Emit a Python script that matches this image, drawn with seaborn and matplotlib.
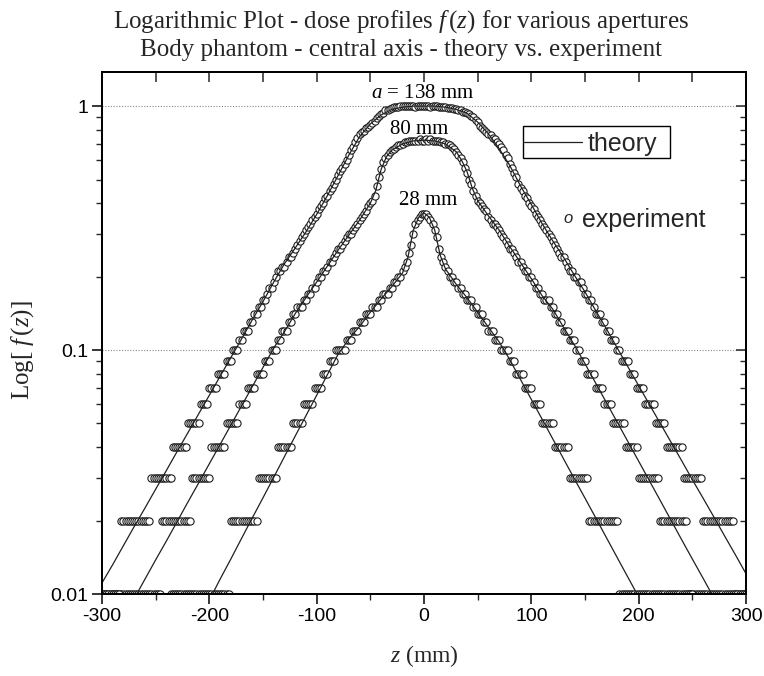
import numpy as np
import matplotlib
matplotlib.use("Agg")
import matplotlib.pyplot as plt
import seaborn as sns
from matplotlib.patches import Rectangle
from matplotlib.lines import Line2D
from matplotlib.ticker import FixedLocator, FixedFormatter, NullFormatter, LogLocator

nan = float("nan")

# ---------------- data ----------------
# experimental sampling positions (mm), one every 2 mm
z_exp = np.arange(-300, 301, 2)

exp_138 = [
    0.01, 0.01, 0.01, 0.01, 0.01, 0.01, 0.01, 0.01, 0.01, 0.02,   # -300..-282
    0.02, 0.02, 0.02, 0.02, 0.02, 0.02, 0.02, 0.02, 0.02, 0.02,   # -280..-262
    0.02, 0.02, 0.02, 0.03, 0.03, 0.03, 0.03, 0.03, 0.03, 0.03,   # -260..-242
    0.03, 0.03, 0.03, 0.04, 0.04, 0.04, 0.04, 0.04, 0.04, 0.04,   # -240..-222
    0.05, 0.05, 0.05, 0.05, 0.05, 0.05, 0.06, 0.06, 0.06, 0.06,   # -220..-202
    0.07, 0.07, 0.07, 0.07, 0.08, 0.08, 0.08, 0.08, 0.09, 0.09,   # -200..-182
    0.09, 0.10, 0.10, 0.10, 0.11, 0.11, 0.12, 0.12, 0.12, 0.13,   # -180..-162
    0.13, 0.14, 0.14, 0.15, 0.15, 0.16, 0.16, 0.17, 0.18, 0.18,   # -160..-142
    0.19, 0.20, 0.21, 0.21, 0.22, 0.22, 0.23, 0.24, 0.24, 0.25,   # -140..-122
    0.26, 0.27, 0.28, 0.29, 0.30, 0.31, 0.32, 0.33, 0.34, 0.35,   # -120..-102
    0.36, 0.38, 0.39, 0.40, 0.42, 0.43, 0.45, 0.46, 0.48, 0.50,   # -100..-82
    0.52, 0.54, 0.56, 0.58, 0.60, 0.63, 0.66, 0.68, 0.71, 0.74,   # -80..-62
    0.77, 0.78, 0.79, 0.81, 0.82, 0.84, 0.85, 0.87, 0.89, 0.91,   # -60..-42
    0.93, 0.94, 0.96, 0.96, 0.97, 0.98, 0.99, 0.99, 0.99, 1.00,   # -40..-22
    1.00, 1.00, 1.00, 1.00, 1.00, 1.00, 0.99, 1.00, 1.00, 1.00,   # -20..-2
    1.00, 1.00, 1.00, 0.99, 1.00, 1.00, 1.00, 0.99, 0.99, 0.99,   # 0..18
    0.99, 0.98, 0.98, 0.98, 0.97, 0.97, 0.96, 0.96, 0.95, 0.95,   # 20..38
    0.94, 0.93, 0.91, 0.90, 0.88, 0.86, 0.83, 0.81, 0.80, 0.78,   # 40..58
    0.77, 0.76, 0.74, 0.73, 0.71, 0.70, 0.68, 0.66, 0.63, 0.61,   # 60..78
    0.58, 0.56, 0.53, 0.51, 0.48, 0.46, 0.45, 0.43, 0.42, 0.40,   # 80..98
    0.39, 0.38, 0.36, 0.35, 0.34, 0.33, 0.32, 0.31, 0.30, 0.29,   # 100..118
    0.28, 0.27, 0.26, 0.25, 0.24, 0.24, 0.23, 0.22, 0.21, 0.21,   # 120..138
    0.20, 0.20, 0.19, 0.19, 0.18, 0.17, 0.17, 0.16, 0.16, 0.15,   # 140..158
    0.14, 0.14, 0.14, 0.13, 0.13, 0.12, 0.12, 0.11, 0.11, 0.11,   # 160..178
    0.10, 0.10, 0.09, 0.09, 0.09, 0.09, 0.08, 0.08, 0.08, 0.07,   # 180..198
    0.07, 0.07, 0.07, 0.06, 0.06, 0.06, 0.06, 0.06, 0.05, 0.05,   # 200..218
    0.05, 0.05, 0.05, 0.04, 0.04, 0.04, 0.04, 0.04, 0.04, 0.04,   # 220..238
    0.04, 0.03, 0.03, 0.03, 0.03, 0.03, 0.03, 0.03, 0.03, 0.03,   # 240..258
    0.02, 0.02, 0.02, 0.02, 0.02, 0.02, 0.02, 0.02, 0.02, 0.02,   # 260..278
    0.02, 0.02, 0.02, 0.02, 0.02, 0.01, 0.01, 0.01, 0.01, 0.01,   # 280..298
    0.01,                                                         # 300
]

exp_80 = [
    0.01, 0.01, 0.01, 0.01, 0.01, 0.01, 0.01, 0.01, 0.01, 0.01,   # -300..-282
    0.01, 0.01, 0.01, 0.01, 0.01, 0.01, 0.01, 0.01, 0.01, 0.01,   # -280..-262
    0.01, 0.01, 0.01, 0.01, 0.01, 0.01, 0.01, 0.01, 0.02, 0.02,   # -260..-242
    0.02, 0.02, 0.02, 0.02, 0.02, 0.02, 0.02, 0.02, 0.02, 0.02,   # -240..-222
    0.02, 0.02, 0.03, 0.03, 0.03, 0.03, 0.03, 0.03, 0.03, 0.03,   # -220..-202
    0.03, 0.04, 0.04, 0.04, 0.04, 0.04, 0.04, 0.04, 0.05, 0.05,   # -200..-182
    0.05, 0.05, 0.05, 0.05, 0.06, 0.06, 0.06, 0.06, 0.07, 0.07,   # -180..-162
    0.07, 0.07, 0.08, 0.08, 0.08, 0.08, 0.09, 0.09, 0.09, 0.10,   # -160..-142
    0.10, 0.10, 0.11, 0.11, 0.12, 0.12, 0.12, 0.13, 0.13, 0.14,   # -140..-122
    0.14, 0.15, 0.15, 0.15, 0.16, 0.16, 0.17, 0.17, 0.18, 0.18,   # -120..-102
    0.19, 0.20, 0.20, 0.21, 0.21, 0.22, 0.23, 0.23, 0.24, 0.25,   # -100..-82
    0.26, 0.26, 0.27, 0.28, 0.29, 0.30, 0.30, 0.31, 0.32, 0.33,   # -80..-62
    0.34, 0.35, 0.36, 0.37, 0.39, 0.40, 0.41, 0.43, 0.47, 0.51,   # -60..-42
    0.55, 0.59, 0.61, 0.63, 0.65, 0.66, 0.67, 0.68, 0.69, 0.69,   # -40..-22
    0.70, 0.71, 0.71, 0.72, 0.72, 0.72, 0.72, 0.72, 0.73, 0.72,   # -20..-2
    0.72, 0.73, 0.72, 0.73, 0.72, 0.72, 0.72, 0.72, 0.71, 0.71,   # 0..18
    0.70, 0.70, 0.69, 0.68, 0.67, 0.65, 0.63, 0.61, 0.59, 0.56,   # 20..38
    0.53, 0.50, 0.48, 0.45, 0.43, 0.41, 0.40, 0.39, 0.38, 0.37,   # 40..58
    0.35, 0.34, 0.33, 0.33, 0.32, 0.31, 0.30, 0.29, 0.28, 0.27,   # 60..78
    0.26, 0.26, 0.25, 0.24, 0.23, 0.23, 0.22, 0.21, 0.21, 0.20,   # 80..98
    0.20, 0.19, 0.18, 0.18, 0.17, 0.17, 0.16, 0.16, 0.16, 0.15,   # 100..118
    0.15, 0.14, 0.14, 0.13, 0.13, 0.12, 0.12, 0.12, 0.11, 0.11,   # 120..138
    0.11, 0.10, 0.10, 0.09, 0.09, 0.09, 0.08, 0.08, 0.08, 0.08,   # 140..158
    0.07, 0.07, 0.07, 0.07, 0.06, 0.06, 0.06, 0.06, 0.05, 0.05,   # 160..178
    0.05, 0.05, 0.05, 0.05, 0.04, 0.04, 0.04, 0.04, 0.04, 0.04,   # 180..198
    0.03, 0.03, 0.03, 0.03, 0.03, 0.03, 0.03, 0.03, 0.03, 0.03,   # 200..218
    0.02, 0.02, 0.02, 0.02, 0.02, 0.02, 0.02, 0.02, 0.02, 0.02,   # 220..238
    0.02, 0.02, 0.02, 0.01, 0.01, 0.01, 0.01, 0.01, 0.01, 0.01,   # 240..258
    0.01, 0.01, 0.01, 0.01, 0.01, 0.01, 0.01, 0.01, 0.01, 0.01,   # 260..278
    0.01, 0.01, 0.01, 0.01, 0.01, 0.01, 0.01, 0.01, 0.01, 0.01,   # 280..298
    0.01,                                                         # 300
]

exp_28 = [
    nan, nan, nan, nan, nan, nan, nan, nan, nan, nan,             # -300..-282
    nan, nan, nan, nan, nan, nan, nan, nan, nan, nan,             # -280..-262
    nan, nan, nan, nan, nan, nan, nan, nan, nan, nan,             # -260..-242
    nan, nan, 0.01, 0.01, 0.01, 0.01, 0.01, 0.01, 0.01, 0.01,     # -240..-222
    0.01, 0.01, 0.01, 0.01, 0.01, 0.01, 0.01, 0.01, 0.01, 0.01,   # -220..-202
    0.01, 0.01, 0.01, 0.01, 0.01, 0.01, 0.01, 0.01, 0.01, 0.01,   # -200..-182
    0.02, 0.02, 0.02, 0.02, 0.02, 0.02, 0.02, 0.02, 0.02, 0.02,   # -180..-162
    0.02, 0.02, 0.02, 0.03, 0.03, 0.03, 0.03, 0.03, 0.03, 0.03,   # -160..-142
    0.03, 0.03, 0.04, 0.04, 0.04, 0.04, 0.04, 0.04, 0.04, 0.05,   # -140..-122
    0.05, 0.05, 0.05, 0.05, 0.06, 0.06, 0.06, 0.06, 0.06, 0.07,   # -120..-102
    0.07, 0.07, 0.07, 0.08, 0.08, 0.08, 0.09, 0.09, 0.09, 0.10,   # -100..-82
    0.10, 0.10, 0.10, 0.10, 0.11, 0.11, 0.11, 0.12, 0.12, 0.12,   # -80..-62
    0.13, 0.13, 0.13, 0.14, 0.14, 0.14, 0.15, 0.15, 0.15, 0.16,   # -60..-42
    0.16, 0.17, 0.17, 0.17, 0.18, 0.18, 0.19, 0.19, 0.20, 0.20,   # -40..-22
    0.21, 0.22, 0.23, 0.25, 0.27, 0.30, 0.33, 0.34, 0.35, 0.36,   # -20..-2
    0.36, 0.36, 0.35, 0.34, 0.33, 0.31, 0.29, 0.26, 0.24, 0.23,   # 0..18
    0.22, 0.21, 0.20, 0.20, 0.19, 0.19, 0.18, 0.18, 0.17, 0.17,   # 20..38
    0.16, 0.16, 0.16, 0.15, 0.15, 0.14, 0.14, 0.14, 0.13, 0.13,   # 40..58
    0.12, 0.12, 0.12, 0.11, 0.11, 0.11, 0.10, 0.10, 0.10, 0.10,   # 60..78
    0.09, 0.09, 0.09, 0.08, 0.08, 0.08, 0.08, 0.07, 0.07, 0.07,   # 80..98
    0.07, 0.06, 0.06, 0.06, 0.06, 0.05, 0.05, 0.05, 0.05, 0.05,   # 100..118
    0.05, 0.04, 0.04, 0.04, 0.04, 0.04, 0.04, 0.04, 0.03, 0.03,   # 120..138
    0.03, 0.03, 0.03, 0.03, 0.03, 0.03, 0.03, 0.02, 0.02, 0.02,   # 140..158
    0.02, 0.02, 0.02, 0.02, 0.02, 0.02, 0.02, 0.02, 0.02, 0.02,   # 160..178
    0.02, 0.01, 0.01, 0.01, 0.01, 0.01, 0.01, 0.01, 0.01, 0.01,   # 180..198
    0.01, 0.01, 0.01, 0.01, 0.01, 0.01, 0.01, 0.01, 0.01, 0.01,   # 200..218
    0.01, 0.01, 0.01, 0.01, 0.01, 0.01, 0.01, 0.01, 0.01, 0.01,   # 220..238
    0.01, 0.01, 0.01, 0.01, 0.01, 0.01, nan, nan, nan, nan,       # 240..258
    nan, nan, nan, nan, nan, nan, nan, nan, nan, nan,             # 260..278
    nan, nan, nan, nan, nan, nan, nan, nan, nan, nan,             # 280..298
    nan,                                                          # 300
]

# theory curves
z_th_138 = [-300, -290, -280, -270, -260, -250, -240, -230, -220, -210,
            -200, -190, -180, -170, -160, -150, -140, -130, -120, -110,
            -100, -90, -80, -70, -60, -50, -40, -30, -20, -10,
            0, 10, 20, 30, 40, 50, 60, 70, 80, 90,
            100, 110, 120, 130, 140, 150, 160, 170, 180, 190,
            200, 210, 220, 230, 240, 250, 260, 270, 280, 290,
            300]
th_138 = [0.0111, 0.0132, 0.0158, 0.0189, 0.0225, 0.0269, 0.0321, 0.0384, 0.0458, 0.0547,
          0.0653, 0.078, 0.0931, 0.111, 0.133, 0.158, 0.19, 0.226, 0.262, 0.305,
          0.36, 0.43, 0.52, 0.63, 0.75, 0.845, 0.92, 0.97, 0.99, 1.0,
          1.0, 1.0, 0.99, 0.97, 0.935, 0.86, 0.77, 0.67, 0.57, 0.47,
          0.395, 0.33, 0.28, 0.24, 0.203, 0.173, 0.145, 0.122, 0.102, 0.0853,
          0.0714, 0.0598, 0.0501, 0.042, 0.0352, 0.0294, 0.0247, 0.0207, 0.0173, 0.0145,
          0.0121]

z_th_80 = [-300, -290, -280, -270, -260, -250, -240, -230, -220, -210,
           -200, -190, -180, -170, -160, -150, -140, -130, -120, -110,
           -100, -90, -80, -70, -60, -50, -45, -40, -35, -30,
           -20, -10, 0, 10, 20, 30, 35, 40, 45, 50,
           60, 70, 80, 90, 100, 110, 120, 130, 140, 150,
           160, 170, 180, 190, 200, 210, 220, 230, 240, 250,
           260, 270, 280, 290, 300]
th_80 = [0.00555, 0.00665, 0.00798, 0.00957, 0.0115, 0.0138, 0.0165, 0.0198, 0.0238, 0.0285,
         0.0342, 0.041, 0.0492, 0.059, 0.0708, 0.0849, 0.102, 0.119, 0.141, 0.164,
         0.19, 0.221, 0.257, 0.296, 0.341, 0.40, 0.45, 0.55, 0.62, 0.66,
         0.70, 0.72, 0.725, 0.72, 0.70, 0.65, 0.60, 0.54, 0.46, 0.41,
         0.355, 0.31, 0.265, 0.228, 0.196, 0.167, 0.147, 0.124, 0.105, 0.0879,
         0.0731, 0.0608, 0.0506, 0.0421, 0.035, 0.0291, 0.0242, 0.0201, 0.0167, 0.0139,
         0.0116, 0.00964, 0.008, 0.00667, 0.00555]

z_th_28 = [-200, -190, -180, -170, -160, -150, -140, -130, -120, -110,
           -100, -90, -80, -70, -60, -50, -40, -30, -20, -15,
           -10, -5, 0, 5, 10, 15, 20, 30, 40, 50,
           60, 70, 80, 90, 100, 110, 120, 130, 140, 150,
           160, 170, 180, 190, 200, 210]
th_28 = [0.00944, 0.0115, 0.0139, 0.0169, 0.0205, 0.0248, 0.0301, 0.0366, 0.0444, 0.0538,
         0.0653, 0.0793, 0.0962, 0.111, 0.125, 0.143, 0.162, 0.182, 0.207, 0.24,
         0.31, 0.35, 0.365, 0.35, 0.31, 0.245, 0.215, 0.186, 0.164, 0.143,
         0.124, 0.108, 0.0911, 0.0756, 0.0627, 0.0521, 0.0432, 0.0358, 0.0297, 0.0247,
         0.0205, 0.017, 0.0141, 0.0117, 0.00972, 0.00806]

x_ticks = [-300, -200, -100, 0, 100, 200, 300]
x_ticks_minor = [-250, -150, -50, 50, 150, 250]
top_ticks = [-300, -250, -200, -150, -100, -50, 0, 50, 100, 150, 200, 250, 300]
y_ticks = [0.01, 0.1, 1]
y_tick_labels = ["0.01", "0.1", "1"]

labels = [("$a$ = 138 mm", -1, 1.13), ("80 mm", -5, 0.80), ("28 mm", 4, 0.41)]

assert len(exp_138) == len(z_exp) and len(exp_80) == len(z_exp) and len(exp_28) == len(z_exp)
assert len(z_th_138) == len(th_138) and len(z_th_80) == len(th_80) and len(z_th_28) == len(th_28)

# ---------------- style ----------------
sns.set_style("ticks")
plt.rcParams["font.family"] = ["Liberation Sans", "DejaVu Sans"]
plt.rcParams["mathtext.fontset"] = "custom"
plt.rcParams["mathtext.rm"] = "Liberation Serif"
plt.rcParams["mathtext.it"] = "Liberation Serif:italic"
plt.rcParams["mathtext.bf"] = "Liberation Serif:bold"

SERIF = ["Liberation Serif", "DejaVu Serif"]
INK = "#202020"

fig = plt.figure(figsize=(7.64, 6.76), dpi=100)
ax = fig.add_axes([0.1335, 0.1213, 0.843, 0.7722])

for vals in (exp_80, exp_138, exp_28):
    sns.scatterplot(x=z_exp, y=vals, ax=ax, marker="o", s=27, color="white",
                    edgecolor="#1e1e1e", linewidth=0.8, zorder=2, legend=False)

for zz, vv in ((z_th_138, th_138), (z_th_80, th_80), (z_th_28, th_28)):
    sns.lineplot(x=zz, y=vv, ax=ax, color=INK, linewidth=0.9, estimator=None,
                 sort=False, zorder=3)

ax.set_yscale("log")
ax.set_xlim(-300, 300)
ax.set_ylim(0.01, 1.38)
ax.set_xlabel("")
ax.set_ylabel("")

ax.xaxis.set_major_locator(FixedLocator(x_ticks))
ax.xaxis.set_minor_locator(FixedLocator(x_ticks_minor))
ax.set_xticklabels([str(t) for t in x_ticks])
ax.yaxis.set_major_locator(FixedLocator(y_ticks))
ax.yaxis.set_major_formatter(FixedFormatter(y_tick_labels))
ax.yaxis.set_minor_locator(LogLocator(base=10, subs=range(2, 10)))
ax.yaxis.set_minor_formatter(NullFormatter())

ax.tick_params(axis="both", which="major", direction="out", length=7, width=1.1,
               labelsize=14, colors="black", pad=3, top=False, right=False)
ax.tick_params(axis="both", which="minor", direction="out", length=4, width=1.0,
               top=False, right=False)
for lab in ax.get_xticklabels() + ax.get_yticklabels():
    lab.set_fontfamily(["Liberation Sans", "DejaVu Sans"])

ax.yaxis.grid(True, which="major", linestyle=(0, (1, 1.5)), color="#8a8a8a", linewidth=0.8)
ax.xaxis.grid(False)
for sp in ax.spines.values():
    sp.set_linewidth(1.2)
    sp.set_color("black")
    sp.set_visible(True)

# mirrored ticks (inward) on top and right
axt = ax.twiny()
axt.set_xlim(-300, 300)
axt.xaxis.set_major_locator(FixedLocator(top_ticks))
axt.xaxis.set_minor_locator(FixedLocator([]))
axt.tick_params(axis="x", which="major", direction="in", length=7, width=1.1,
                top=True, bottom=False, labeltop=False, labelbottom=False)
axr = ax.twinx()
axr.set_yscale("log")
axr.set_ylim(0.01, 1.38)
axr.yaxis.set_major_locator(FixedLocator(y_ticks))
axr.yaxis.set_minor_locator(LogLocator(base=10, subs=range(2, 10)))
axr.yaxis.set_minor_formatter(NullFormatter())
axr.tick_params(axis="y", which="major", direction="in", length=7, width=1.1,
                right=True, left=False, labelright=False, labelleft=False)
axr.tick_params(axis="y", which="minor", direction="in", length=4, width=1.0,
                right=True, left=False)
for a2 in (axt, axr):
    for sp in a2.spines.values():
        sp.set_linewidth(1.2)
        sp.set_color("black")

# curve labels
for txt, zx, yv in labels:
    ax.text(zx, yv, txt, ha="center", va="center", fontsize=15, family=SERIF,
            color="black", zorder=6)

# legend (drawn by hand, like the original box)
ax.add_patch(Rectangle((0.6537, 0.8349), 0.2283, 0.0624, transform=ax.transAxes,
                       fill=False, edgecolor="black", linewidth=1.0, zorder=6))
ax.add_line(Line2D([0.6555, 0.7453], [0.8665, 0.8665], transform=ax.transAxes,
                   color=INK, linewidth=0.9, zorder=6))
ax.text(0.7547, 0.8495, "theory", transform=ax.transAxes, ha="left", va="baseline",
        fontsize=18, zorder=6)
ax.text(0.717, 0.711, "o", transform=ax.transAxes, ha="left", va="baseline",
        fontsize=12, style="italic", zorder=6)
ax.text(0.745, 0.703, "experiment", transform=ax.transAxes, ha="left", va="baseline",
        fontsize=18, zorder=6)

# titles and axis labels
fig.text(401 / 764, 1 - 28 / 676, "Logarithmic Plot - dose profiles $f\\,(z)$ for various apertures",
         ha="center", va="baseline", fontsize=18, family=SERIF)
fig.text(401 / 764, 1 - 56 / 676, "Body phantom - central axis - theory vs. experiment",
         ha="center", va="baseline", fontsize=18, family=SERIF)
fig.text(424 / 764, 1 - 662 / 676, "$z$ (mm)", ha="center", va="baseline",
         fontsize=17, family=SERIF)
fig.text(23 / 764, 1 - 350 / 676, "Log[ $f\\,(z)$]", ha="center", va="center",
         rotation=90, fontsize=18, family=SERIF)

fig.savefig("out.png", dpi=100)
